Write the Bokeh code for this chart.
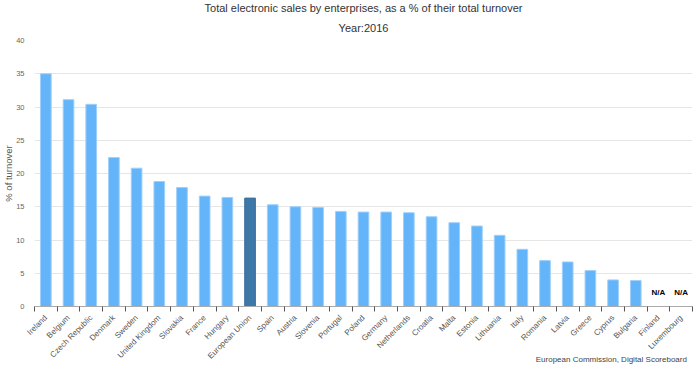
import math
from bokeh.plotting import figure
from bokeh.models import (Range1d, LinearAxis, FixedTicker, Title,
                          ColumnDataSource)
from bokeh.core.properties import value
from bokeh.embed import file_html
from bokeh.resources import INLINE

# ---- data ----
countries = ["Ireland", "Belgium", "Czech Republic", "Denmark", "Sweden",
             "United Kingdom", "Slovakia", "France", "Hungary", "European Union",
             "Spain", "Austria", "Slovenia", "Portugal", "Poland", "Germany",
             "Netherlands", "Croatia", "Malta", "Estonia", "Lithuania", "Italy",
             "Romania", "Latvia", "Greece", "Cyprus", "Bulgaria", "Finland",
             "Luxembourg"]
values = [35.0, 31.1, 30.4, 22.4, 20.8, 18.8, 17.9, 16.6, 16.4, 16.3,
          15.3, 15.0, 14.9, 14.3, 14.2, 14.2, 14.1, 13.5, 12.6, 12.1,
          10.7, 8.6, 6.9, 6.7, 5.4, 4.0, 3.9, None, None]
highlight = "European Union"
y_ticks = [0, 5, 10, 15, 20, 25, 30, 35, 40]
title_text = "Total electronic sales by enterprises, as a % of their total turnover"
subtitle_text = "Year:2016"
y_title = "% of turnover"
credits_text = "European Commission, Digital Scoreboard"
na_text = "N/A"

FONT = "Liberation Sans"
BAR = "#63b4f9"
BAR_HI = "#3e78a8"

n = len(countries)
centres = [i + 0.5 for i in range(n)]          # category slot centres
bounds = list(range(n + 1))                     # category slot boundaries

bar_x = [c for c, v in zip(centres, values) if v is not None]
bar_top = [v for v in values if v is not None]
bar_name = [k for k, v in zip(countries, values) if v is not None]
bar_col = [BAR_HI if k == highlight else BAR for k in bar_name]
bar_line = ["#3a6f9c" if k == highlight else "#9fd0fb" for k in bar_name]
na_x = [c for c, v in zip(centres, values) if v is None]

p = figure(x_range=Range1d(0, n), y_range=Range1d(0, max(y_ticks)),
           frame_width=658, frame_height=266, output_backend="svg",
           toolbar_location=None, x_axis_location=None, title=None,
           min_border_left=0, min_border_right=4, min_border_top=0,
           min_border_bottom=0)
p.outline_line_color = None
p.background_fill_color = "white"
p.border_fill_color = "white"

src = ColumnDataSource(dict(x=bar_x, top=bar_top, color=bar_col, line=bar_line))
p.vbar(x="x", top="top", width=0.47, bottom=0, source=src,
       fill_color="color", line_color="line", line_width=1)

p.text(x=na_x, y=[0] * len(na_x), text=[na_text] * len(na_x),
       text_font=value(FONT), text_font_size="8px", text_font_style="bold",
       text_color="#000000", text_align="center", text_baseline="middle",
       y_offset=-14)

# y axis
ya = p.yaxis[0]
ya.ticker = FixedTicker(ticks=y_ticks)
ya.axis_line_color = None
ya.major_tick_line_color = None
ya.minor_tick_line_color = None
ya.major_tick_out = 0
ya.major_label_text_font = FONT
ya.major_label_text_font_size = "7.5px"
ya.major_label_text_color = "#666666"
ya.major_label_standoff = 10
ya.axis_label = y_title
ya.axis_label_text_font = FONT
ya.axis_label_text_font_size = "9.5px"
ya.axis_label_text_font_style = "normal"
ya.axis_label_text_color = "#555555"
ya.axis_label_standoff = -1
p.ygrid.grid_line_color = "#e6e6e6"
p.ygrid.ticker = FixedTicker(ticks=y_ticks)
p.xgrid.grid_line_color = None

# x axis: labels at category centres, tick marks at category boundaries;
# the credits line is carried as the axis title, pushed to the right end
credits_label = "\u00a0" * 223 + credits_text
xa = LinearAxis(ticker=FixedTicker(ticks=centres, minor_ticks=bounds),
                major_label_overrides={c: name for c, name in zip(centres, countries)},
                major_label_orientation=math.pi / 4,
                major_label_text_font=FONT, major_label_text_font_size="8px",
                major_label_text_color="#555555", major_label_standoff=5,
                major_tick_line_color=None, major_tick_in=0, major_tick_out=0,
                minor_tick_line_color="#555555", minor_tick_in=0, minor_tick_out=5,
                axis_line_color="#aaaaaa",
                axis_label=credits_label, axis_label_align="center",
                axis_label_standoff=-12, axis_label_text_font=FONT,
                axis_label_text_font_size="8px",
                axis_label_text_font_style="normal",
                axis_label_text_color="#444444")
p.add_layout(xa, "below")

# titles
p.add_layout(Title(text=subtitle_text, align="center", text_font=FONT,
                   text_font_size="11px", text_font_style="normal",
                   text_color="#333333", standoff=13), "above")
p.add_layout(Title(text=title_text, align="center", text_font=FONT,
                   text_font_size="11px", text_font_style="normal",
                   text_color="#333333", standoff=-1), "above")

open("out.html", "w").write(file_html(p, INLINE))
